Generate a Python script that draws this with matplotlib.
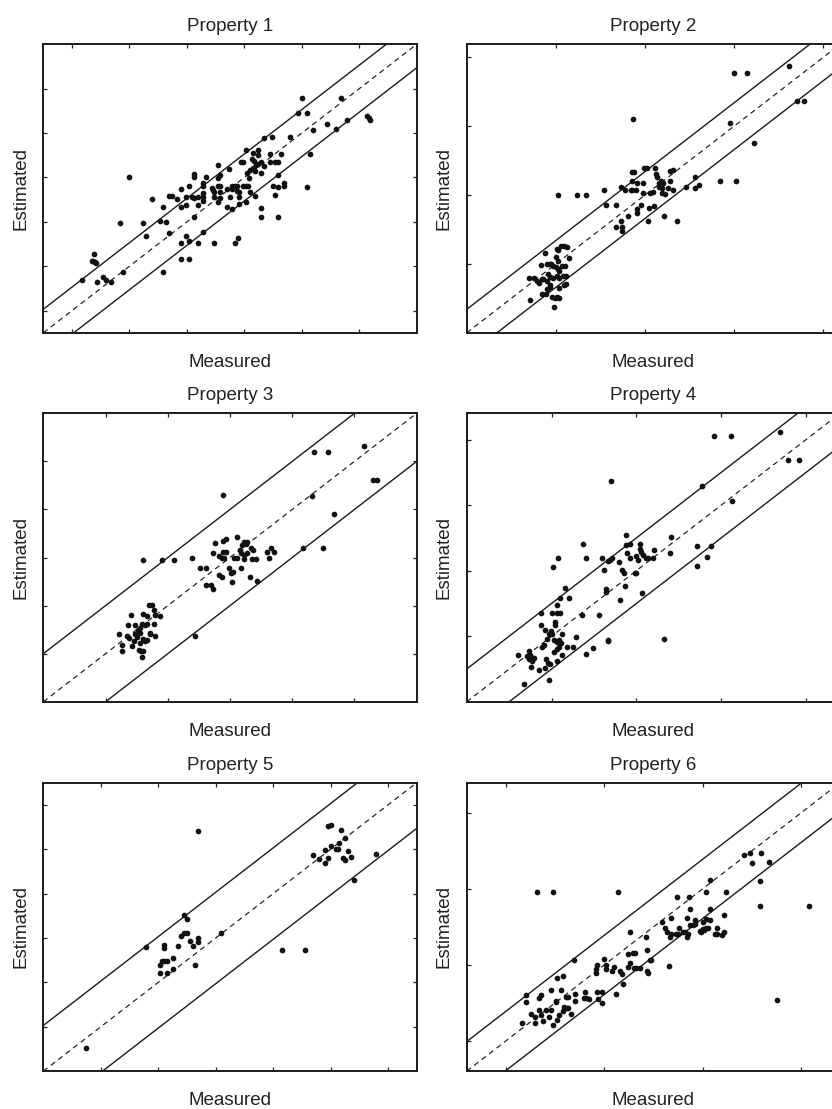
import matplotlib
matplotlib.use("Agg")
import matplotlib.pyplot as plt

plt.rcParams['font.family'] = ['Liberation Sans', 'DejaVu Sans']

titles = ["Property 1", "Property 2", "Property 3", "Property 4", "Property 5", "Property 6"]
xlabel_text = "Measured"
ylabel_text = "Estimated"

# ---- Property 1 ----
meas1 = [0.18, 0.38, 0.34, 0.37, 0.40, 0.42, 0.44, 0.54, 0.59, 0.67, 0.89, 0.83, 0.99, 1.24, 1.28, 1.39,
         1.54, 1.58, 1.64, 1.58, 1.69, 1.69, 1.74, 1.83, 1.89, 1.89, 1.89, 1.89, 1.99, 1.99, 1.99, 2.04,
         2.04, 2.04, 2.09, 2.12, 2.13, 2.13, 2.13, 2.19, 2.19, 2.19, 2.28, 2.28, 2.28, 2.28, 2.28, 2.28,
         2.34, 2.43, 2.46, 2.48, 2.48, 2.48, 2.54, 2.54, 2.54, 2.54, 2.58, 2.58, 2.58, 2.58, 2.69, 2.69,
         2.73, 2.75, 2.79, 2.79, 2.79, 2.83, 2.87, 2.87, 2.90, 2.90, 2.90, 2.83, 2.89, 2.94, 2.98, 2.98,
         3.02, 3.07, 3.03, 3.03, 3.05, 3.08, 3.09, 3.09, 3.13, 3.16, 3.15, 3.18, 3.18, 3.15, 3.24, 3.24,
         3.21, 3.24, 3.29, 3.29, 3.29, 3.29, 3.34, 3.34, 3.44, 3.44, 3.48, 3.49, 3.54, 3.59, 3.54, 3.59,
         3.59, 3.59, 3.63, 3.69, 3.69, 3.79, 3.93, 4.00, 4.09, 4.09, 4.14, 4.20, 4.44, 4.59, 4.69, 4.79,
         5.14, 5.17, 5.19]
est1 = [0.69, 1.27, 1.12, 1.11, 1.10, 1.07, 0.65, 0.75, 0.69, 0.65, 0.86, 1.97, 3.00, 1.97, 1.68, 2.51,
        2.03, 2.33, 1.99, 0.86, 1.74, 2.59, 2.59, 2.51, 2.74, 2.33, 1.53, 1.16, 2.38, 2.56, 1.67, 2.80,
        1.16, 1.56, 2.56, 2.53, 3.08, 3.00, 2.12, 2.57, 2.38, 1.53, 2.87, 2.80, 2.65, 2.57, 2.46, 1.78,
        3.00, 2.76, 2.71, 2.68, 2.56, 1.53, 3.27, 2.98, 2.80, 2.44, 3.06, 2.80, 2.68, 2.53, 2.74, 2.33,
        3.19, 2.56, 2.80, 2.74, 2.29, 2.80, 2.80, 2.70, 2.68, 2.56, 2.40, 1.53, 1.63, 3.34, 3.34, 2.80,
        2.80, 2.80, 3.62, 2.44, 3.10, 2.98, 2.68, 3.17, 3.42, 3.36, 3.21, 3.14, 2.59, 3.56, 3.62, 3.50,
        3.27, 3.30, 3.10, 3.34, 2.32, 2.12, 3.89, 3.25, 3.53, 3.34, 3.91, 2.80, 3.34, 3.34, 2.61, 3.06,
        2.78, 2.12, 3.53, 2.87, 2.80, 3.92, 4.45, 4.79, 4.45, 2.78, 3.53, 4.06, 4.21, 4.09, 4.79, 4.30,
        4.39, 4.34, 4.30]

# ---- Property 2 ----
meas2 = [-0.29, -0.30, -0.25, -0.21, -0.19, -0.16, -0.17, -0.12, -0.14, -0.10, -0.07, -0.15, -0.11, -0.10,
         -0.07, -0.10, -0.07, -0.05, -0.03, -0.09, -0.06, -0.03, -0.04, -0.01, 0.01, -0.02, 0.04, 0.01,
         0.03, 0.00, 0.02, 0.00, 0.03, 0.04, 0.01, 0.04, 0.06, 0.09, 0.12, 0.07, 0.10, 0.08, 0.11, 0.09,
         0.11, 0.04, 0.15, 0.03, 0.24, 0.34, 0.54, 0.56, 0.67, 0.68, 0.73, 0.74, 0.74, 0.73, 0.78, 0.81,
         0.84, 0.86, 0.90, 0.85, 0.85, 0.88, 0.87, 0.91, 0.91, 0.91, 0.96, 0.98, 0.98, 0.99, 1.02, 1.03,
         1.05, 1.06, 1.09, 1.10, 1.11, 1.12, 1.14, 1.16, 1.18, 1.20, 1.16, 1.19, 1.19, 1.22, 1.21, 1.26,
         1.28, 1.28, 1.32, 1.32, 1.36, 1.46, 1.56, 1.56, 1.61, 1.84, 1.95, 2.02, 2.00, 2.14, 2.22, 2.62,
         2.71, 2.79]
est2 = [-0.52, -0.20, -0.20, -0.25, -0.27, -0.22, -0.01, 0.16, -0.22, -0.25, -0.31, -0.43, -0.43, -0.36,
        -0.33, 0.00, 0.00, 0.00, -0.03, -0.14, -0.19, -0.20, -0.48, -0.49, -0.48, -0.63, -0.50, 0.21,
        0.20, 0.10, 0.04, -0.05, -0.08, -0.10, -0.17, -0.20, 0.26, 0.26, 0.25, -0.03, -0.03, -0.17, -0.17,
        -0.30, -0.29, -0.35, 0.09, 1.00, 1.00, 1.00, 1.08, 0.86, 0.86, 0.54, 0.62, 0.54, 0.48, 1.12, 1.08,
        0.70, 1.08, 1.08, 1.08, 1.20, 1.33, 1.33, 2.11, 1.17, 0.74, 0.80, 0.85, 1.18, 1.03, 1.40, 1.40,
        0.62, 0.81, 1.03, 1.04, 0.84, 1.39, 1.31, 1.26, 1.18, 1.21, 1.18, 1.12, 1.11, 1.03, 1.01, 0.70,
        1.11, 1.21, 1.35, 1.37, 1.08, 0.62, 1.12, 1.27, 1.10, 1.15, 1.21, 2.04, 1.21, 2.78, 2.78, 1.75,
        2.87, 2.36, 2.36]

# ---- Property 3 ----
meas3 = [0.21, 0.26, 0.26, 0.34, 0.37, 0.36, 0.41, 0.43, 0.45, 0.47, 0.48, 0.51, 0.52, 0.55, 0.56, 0.53,
         0.57, 0.61, 0.59, 0.59, 0.63, 0.66, 0.61, 0.66, 0.60, 0.63, 0.67, 0.71, 0.72, 0.70, 0.75, 0.78,
         0.80, 0.78, 0.80, 0.87, 0.56, 0.60, 0.91, 1.10, 1.39, 1.43, 1.51, 1.62, 1.62, 1.70, 1.73, 1.73,
         1.76, 1.83, 1.87, 1.89, 1.83, 1.87, 1.88, 1.89, 1.94, 1.91, 1.94, 1.98, 2.02, 2.05, 2.03, 2.06,
         2.11, 2.12, 2.17, 2.16, 2.19, 2.22, 2.25, 2.28, 2.18, 2.23, 2.27, 2.32, 2.33, 2.37, 2.35, 2.41,
         2.23, 2.44, 2.59, 2.66, 2.71, 2.62, 3.17, 3.32, 3.35, 3.58, 3.49, 3.67, 4.16, 4.30, 4.37]
est3 = [0.40, 0.19, 0.06, 0.36, 0.33, 0.59, 0.81, 0.16, 0.26, 0.59, 0.40, 0.34, 0.50, 0.54, 0.43, 0.08,
        0.06, 0.06, -0.07, 0.61, 0.59, 0.61, 0.83, 0.79, 0.30, 0.26, 0.28, 0.43, 0.40, 1.01, 1.01, 0.90,
        0.81, 0.61, 0.36, 0.78, 0.23, 1.95, 1.95, 1.95, 2.00, 0.36, 1.78, 1.78, 1.43, 1.43, 1.34, 2.09,
        2.31, 2.04, 2.00, 2.12, 1.64, 1.60, 3.30, 2.35, 2.38, 2.00, 2.12, 1.79, 1.67, 1.69, 1.50, 2.00,
        2.00, 2.43, 1.79, 2.15, 2.26, 2.33, 2.29, 2.33, 2.09, 2.05, 2.09, 1.60, 2.19, 2.15, 1.98, 1.97,
        1.98, 1.51, 2.12, 2.19, 2.12, 2.00, 2.19, 3.27, 4.19, 4.19, 2.19, 2.91, 4.32, 3.62, 3.62]

# ---- Property 4 ----
meas4 = [-0.40, -0.33, -0.29, -0.27, -0.26, -0.25, -0.23, -0.21, -0.24, -0.15, -0.13, -0.13, -0.11, -0.09,
         -0.08, -0.08, -0.07, -0.05, -0.04, -0.02, -0.03, -0.03, -0.01, 0.01, 0.00, 0.06, 0.10, 0.02, 0.04,
         0.04, 0.03, 0.06, 0.03, 0.06, 0.09, 0.11, 0.06, 0.06, 0.07, 0.09, 0.12, 0.10, 0.12, 0.16, 0.18,
         0.21, 0.25, 0.29, 0.36, 0.37, 0.40, 0.40, 0.49, 0.56, 0.59, 0.62, 0.64, 0.64, 0.66, 0.66, 0.66,
         0.69, 0.71, 0.70, 0.79, 0.81, 0.83, 0.85, 0.87, 0.88, 0.88, 0.92, 0.89, 0.93, 0.98, 1.00, 1.00,
         1.02, 1.04, 1.04, 1.05, 1.08, 1.07, 1.11, 1.14, 1.20, 1.21, 1.32, 1.40, 1.41, 1.71, 1.71, 1.77,
         1.83, 1.88, 1.91, 2.12, 2.13, 2.69, 2.79, 2.92]
est4 = [-0.29, -0.73, -0.30, -0.34, -0.22, -0.28, -0.38, -0.33, -0.47, -0.52, 0.17, 0.36, -0.16, -0.13,
        0.09, -0.48, -0.35, -0.04, -0.41, -0.43, -0.66, 0.04, 0.08, 0.04, 0.36, 0.35, 0.35, 1.05, 0.17,
        0.21, -0.06, -0.09, -0.24, -0.20, -0.16, -0.11, -0.38, 0.48, 1.20, -0.06, 0.03, 0.59, -0.28, 0.74,
        -0.16, 0.59, -0.17, -0.01, 0.32, 1.41, -0.27, 1.19, -0.18, 0.33, 1.19, 1.01, 0.72, 0.68, -0.05,
        -0.08, 1.14, 1.16, 1.19, 2.36, 1.13, 0.55, 1.01, 0.97, 0.76, 1.55, 1.39, 1.40, 1.27, 1.19, 0.97,
        0.97, 1.22, 1.16, 1.40, 1.33, 1.28, 1.24, 0.66, 1.20, 1.19, 1.20, 1.31, -0.04, 1.27, 1.52, 1.37,
        1.07, 2.29, 1.21, 1.37, 3.05, 3.05, 2.06, 3.12, 2.69, 2.69]

# ---- Property 5 ----
meas5 = [-0.25, 0.79, 1.04, 1.04, 1.06, 1.10, 1.15, 1.10, 1.10, 1.15, 1.25, 1.25, 1.35, 1.40, 1.45, 1.50,
         1.45, 1.50, 1.55, 1.60, 1.64, 1.70, 1.70, 1.70, 2.10, 3.15, 3.55, 3.70, 3.80, 3.90, 3.90, 3.95,
         3.95, 4.00, 4.00, 4.09, 4.13, 4.15, 4.19, 4.21, 4.25, 4.25, 4.30, 4.35, 4.40, 4.80]
est5 = [-0.47, 1.79, 1.40, 1.21, 1.49, 1.49, 1.49, 1.85, 1.77, 1.21, 1.56, 1.30, 1.83, 2.05, 2.52, 2.42,
        2.11, 2.12, 1.94, 1.83, 1.40, 2.01, 1.91, 4.42, 2.12, 1.73, 1.73, 3.86, 3.78, 3.99, 3.70, 3.80,
        4.53, 4.55, 4.08, 4.00, 4.00, 4.14, 4.44, 3.80, 3.76, 4.26, 3.97, 3.82, 3.31, 3.89]

# ---- Property 6 ----
meas6 = [0.16, 0.20, 0.20, 0.25, 0.29, 0.29, 0.32, 0.48, 0.34, 0.36, 0.38, 0.34, 0.36, 0.41, 0.44, 0.46,
         0.46, 0.48, 0.51, 0.51, 0.52, 0.52, 0.54, 0.56, 0.58, 0.58, 0.59, 0.62, 0.63, 0.61, 0.63, 0.66,
         0.69, 0.70, 0.70, 0.79, 0.80, 0.81, 0.84, 0.92, 0.92, 0.93, 0.93, 0.94, 0.98, 0.98, 1.00, 1.02,
         1.02, 1.08, 1.10, 1.12, 1.14, 1.16, 1.18, 1.19, 1.24, 1.24, 1.26, 1.26, 1.29, 1.31, 1.30, 1.32,
         1.36, 1.42, 1.43, 1.43, 1.44, 1.47, 1.48, 1.59, 1.62, 1.64, 1.66, 1.67, 1.68, 1.68, 1.74, 1.73,
         1.75, 1.76, 1.80, 1.82, 1.84, 1.85, 1.84, 1.86, 1.87, 1.87, 1.90, 1.92, 1.92, 1.97, 1.98, 2.00,
         2.00, 2.02, 2.04, 2.06, 2.04, 2.04, 2.08, 2.08, 2.08, 2.13, 2.15, 2.15, 2.20, 2.22, 2.22, 2.24,
         2.42, 2.48, 2.50, 2.58, 2.58, 2.60, 2.68, 2.76, 3.08]
est6 = [0.24, 0.61, 0.51, 0.36, 0.32, 0.24, 1.96, 1.96, 0.41, 0.34, 0.26, 0.56, 0.61, 0.40, 0.31, 0.40,
        0.67, 0.21, 0.53, 0.51, 0.27, 0.83, 0.34, 0.67, 0.85, 0.39, 0.44, 0.43, 0.43, 0.58, 0.58, 0.35,
        1.06, 0.62, 0.53, 0.56, 0.64, 0.56, 0.55, 0.89, 0.94, 1.00, 0.64, 0.55, 0.64, 0.50, 1.08, 1.00,
        0.94, 0.92, 0.97, 0.62, 1.96, 0.92, 0.88, 0.75, 1.15, 0.97, 1.44, 1.02, 1.16, 1.16, 0.96, 0.96,
        0.96, 1.37, 1.20, 0.92, 0.90, 1.07, 1.07, 1.56, 1.48, 1.44, 0.99, 1.37, 1.41, 1.62, 1.90, 1.41,
        1.41, 1.48, 1.43, 1.44, 1.37, 1.41, 1.62, 1.90, 1.74, 1.52, 1.52, 1.59, 1.54, 1.45, 1.43, 1.47,
        1.56, 1.46, 1.48, 1.48, 1.96, 1.60, 1.59, 1.74, 2.12, 1.41, 1.48, 1.41, 1.39, 1.44, 1.66, 1.96,
        2.45, 2.48, 2.34, 1.78, 2.10, 2.48, 2.36, 0.54, 1.78]

measured = [meas1, meas2, meas3, meas4, meas5, meas6]
estimated = [est1, est2, est3, est4, est5, est6]
band_halfwidth = [0.53, 0.34, 1.0, 0.5, 1.03, 0.39]
axis_limits = [(-0.5, 6.0), (-1.0, 3.19), (-1.0, 5.0), (-1.0, 3.4), (-1.0, 5.5), (-0.4, 3.4)]
tick_values = [list(range(0, 6)), list(range(0, 4)), list(range(0, 5)),
               list(range(0, 4)), list(range(0, 6)), list(range(0, 4))]

fig = plt.figure(figsize=(8.32, 11.09), dpi=100)
W, H = 832.0, 1109.0
col_left = [43.3, 466.7]
row_top = [44.3, 413.3, 782.7]
ax_w, ax_h = 373.4, 288.5

text_color = '#222222'
for i in range(6):
    r, c = divmod(i, 2)
    ax = fig.add_axes([col_left[c] / W, 1 - (row_top[r] + ax_h) / H, ax_w / W, ax_h / H])
    lo, hi = axis_limits[i]
    ax.set_xlim(lo, hi)
    ax.set_ylim(lo, hi)
    d = band_halfwidth[i]
    ax.axline((0, 0), slope=1, color='#1a1a1a', lw=0.85, ls=(0, (4.5, 3.5)))
    ax.axline((0, d), slope=1, color='#1a1a1a', lw=1.0)
    ax.axline((0, -d), slope=1, color='#1a1a1a', lw=1.0)
    ax.plot(measured[i], estimated[i], 'o', color='#111111', markersize=4.1, markeredgewidth=0)
    ax.set_xticks(tick_values[i])
    ax.set_yticks(tick_values[i])
    ax.tick_params(direction='in', top=True, right=True, length=3, width=0.9,
                   labelbottom=False, labelleft=False, color='#222222')
    for s in ax.spines.values():
        s.set_linewidth(1.4)
        s.set_color('#1a1a1a')
    ax.set_title(titles[i], fontsize=13.5, pad=9.5, color=text_color)
    ax.set_xlabel(xlabel_text, fontsize=13.5, labelpad=15, color=text_color)
    ax.set_ylabel(ylabel_text, fontsize=13.5, labelpad=10, color=text_color)

fig.savefig("out.png", dpi=100)
